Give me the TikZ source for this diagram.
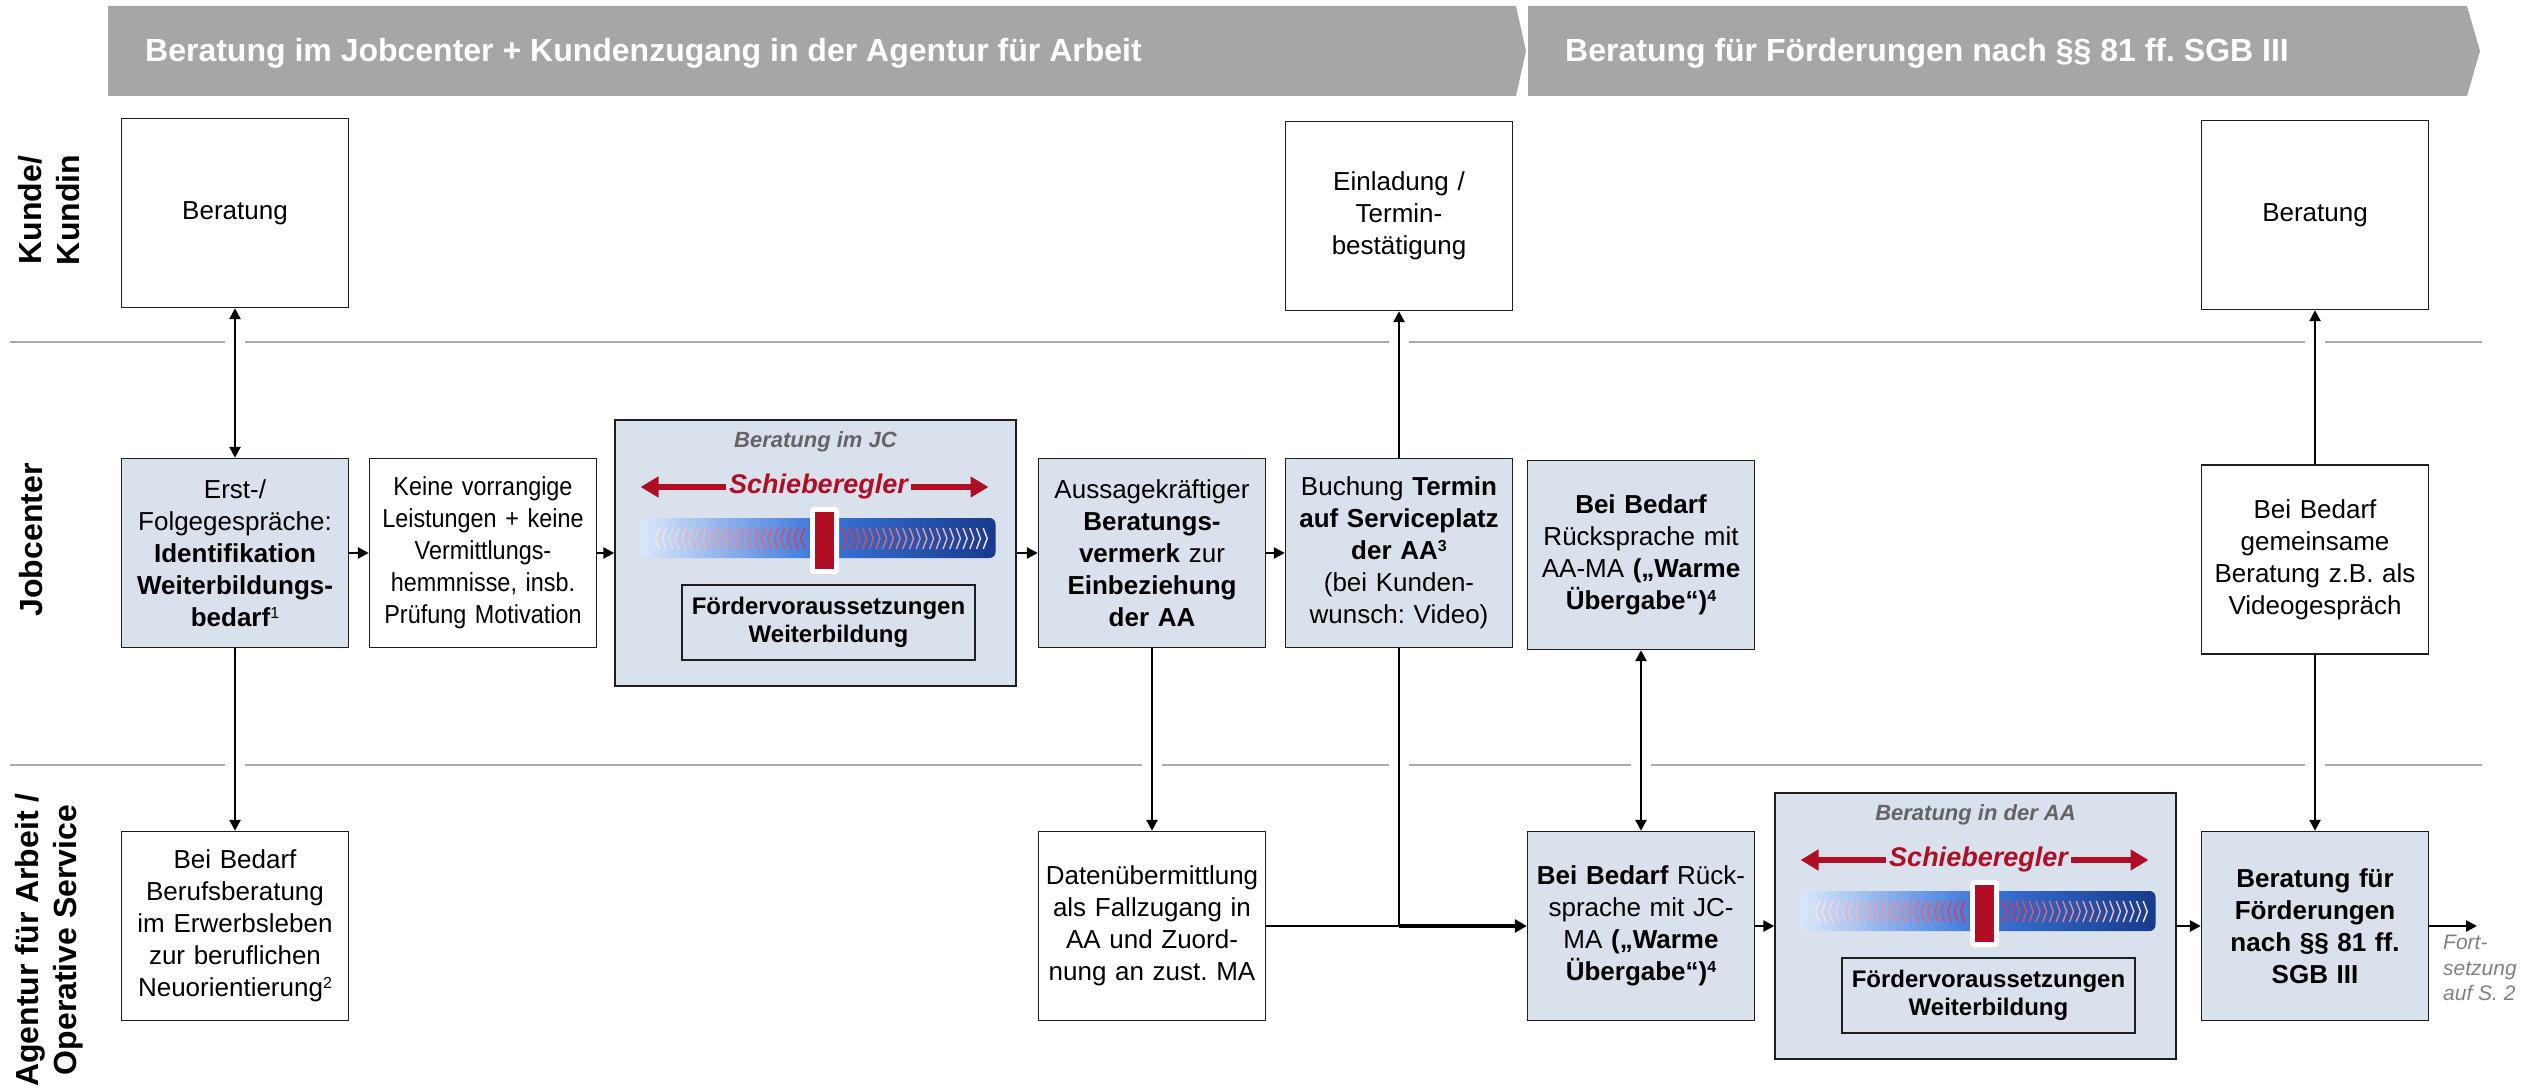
\documentclass[tikz,border=0pt]{standalone}
\usepackage{fontspec}
\setmainfont{Liberation Sans}
\newfontfamily\narrowfont[FakeStretch=0.9]{Liberation Sans}
\usetikzlibrary{arrows.meta}
\definecolor{boxfill}{RGB}{217,225,236}
\definecolor{hdr}{RGB}{166,166,166}
\definecolor{sepc}{RGB}{170,170,170}
\definecolor{dred}{RGB}{176,14,36}
\definecolor{chred}{RGB}{226,50,60}
\definecolor{ttlgray}{RGB}{100,100,100}
\definecolor{fgray}{RGB}{128,128,128}
\definecolor{barL}{RGB}{218,231,250}
\definecolor{barM}{RGB}{58,118,220}
\definecolor{barR}{RGB}{22,58,140}
\definecolor{bord}{RGB}{30,30,30}
\newcommand\sups[1]{\raisebox{0.3em}{\fontsize{16}{16}\selectfont #1}}
\tikzset{
  box/.style={draw=bord, line width=1.4pt, minimum width=227pt, minimum height=189pt,
    inner sep=0pt, align=center, text width=218pt, font=\fontsize{26}{32}\selectfont},
  bluebox/.style={box, fill=boxfill},
  container/.style={draw=bord, line width=1.4pt, fill=boxfill, minimum width=401pt,
    minimum height=266pt, inner sep=0pt},
  conn/.style={line width=2.5pt, black},
  lane/.style={rotate=90, font=\fontsize{32}{38}\selectfont\bfseries, align=center, inner sep=0pt},
  hdrtext/.style={anchor=base west, text=white, font=\fontsize{32}{38}\selectfont\bfseries, inner sep=0pt},
}
\newcommand\mkslider[3]{%
  \begin{scope}[shift={(#1.center)}]
    \node[font=\fontsize{22}{26}\selectfont\bfseries\itshape, text=ttlgray] (#3t) at (0,-111) {#2};
    \shade[rounded corners=6pt, left color=barL, right color=barR, middle color=barM] (-175,-35) rectangle (180,5);
    \foreach \i in {0,...,22}{
      \pgfmathsetmacro\xx{-160+\i*6.6}
      \pgfmathtruncatemacro\p{12+88*\i/22}
      \draw[chred!\p!white, line width=1.4pt] (\xx+4,-25) -- (\xx,-14.5) -- (\xx+4,-4);
    }
    \foreach \i in {0,...,21}{
      \pgfmathsetmacro\xx{27+\i*6.7}
      \pgfmathtruncatemacro\p{100-88*\i/21}
      \draw[chred!\p!white, line width=1.4pt] (\xx,-25) -- (\xx+4,-14.5) -- (\xx,-4);
    }
    \fill[white, rounded corners=4pt] (-5.5,-46) rectangle (23.5,21);
    \fill[dred] (-0.5,-41) rectangle (18.5,16);
    \draw[dred, line width=6pt, {Triangle[length=18pt,width=20pt]}-{Triangle[length=18pt,width=20pt]}] (-175,-66) -- (173,-66);
    \node[fill=boxfill, inner sep=3pt, text=dred, font=\fontsize{27}{30}\selectfont\bfseries\itshape] (#3s) at (3,-66) {Schieberegler};
    \node[draw=bord, line width=1.4pt, fill=boxfill, minimum width=293pt, minimum height=75pt,
      inner sep=0pt, align=center, font=\fontsize{24}{28}\selectfont\bfseries] (#3f) at (13,69.5)
      {Fördervoraussetzungen\\Weiterbildung};
  \end{scope}%
}
\begin{document}
\frenchspacing
\begin{tikzpicture}[x=1pt, y=-1pt, >={Triangle[length=11pt,width=11pt]}]
\useasboundingbox (0,0) rectangle (2525,1091);
% header chevrons
\fill[hdr] (108,6) -- (1516,6) -- (1526,51) -- (1516,96) -- (108,96) -- cycle;
\fill[hdr] (1528,6) -- (2467,6) -- (2480,51) -- (2467,96) -- (1528,96) -- cycle;
\node[hdrtext] (h1) at (145,62) {Beratung im Jobcenter + Kundenzugang in der Agentur für Arbeit};
\node[hdrtext] (h2) at (1565,62) {Beratung für Förderungen nach §§ 81 ff. SGB III};
% lane labels
\node[lane] (lK) at (49,210) {Kunde/\\Kundin};
\node[lane, anchor=base] (lJ) at (42,540) {Jobcenter};
\node[lane] (lA) at (49,940) {Agentur für Arbeit /\\Operative Service};
% separators
\draw[sepc, line width=2pt] (10,342) -- (2482,342);
\draw[sepc, line width=2pt] (10,765) -- (2482,765);
\foreach \x in {235,1399,2315} \fill[white] (\x-10,338) rectangle (\x+10,346);
\foreach \x in {235,1152,1399,1641,2315} \fill[white] (\x-10,761) rectangle (\x+10,769);
% Kunde row
\node[box] (K1) at (235,213) {Beratung};
\node[box] (K2) at (1399,216) {Einladung /\\Termin-\\bestätigung};
\node[box] (K3) at (2315,215) {Beratung};
% Jobcenter row
\node[bluebox] (JC1) at (235,553) {Erst-/\\Folgegespräche:\\\textbf{Identifikation}\\\textbf{Weiterbildungs-}\\\textbf{bedarf}\sups{1}};
\node[box, font=\fontsize{26}{32}\selectfont\narrowfont] (JC2) at (483,553) {Keine vorrangige\\Leistungen + keine\\Vermittlungs-\\hemmnisse, insb.\\Prüfung Motivation};
\node[container] (JC3) at (815.5,553) {};
\mkslider{JC3}{Beratung im JC}{jc}
\node[bluebox] (JC4) at (1152,553) {Aussagekräftiger\\\textbf{Beratungs-}\\\textbf{vermerk} zur\\\textbf{Einbeziehung}\\\textbf{der AA}};
\node[bluebox] (JC5) at (1399,553) {Buchung \textbf{Termin}\\\textbf{auf Serviceplatz}\\\textbf{der AA\sups{3}}\\(bei Kunden-\\wunsch: Video)};
\node[bluebox] (JC6) at (1641,555) {\textbf{Bei Bedarf}\\Rücksprache mit\\AA-MA \textbf{(„Warme}\\\textbf{Übergabe“)\sups{4}}};
\node[box] (JC7) at (2315,559.5) {Bei Bedarf\\gemeinsame\\Beratung z.B. als\\Videogespräch};
% Agentur row
\node[box] (AA1) at (235,926) {Bei Bedarf\\Berufsberatung\\im Erwerbsleben\\zur beruflichen\\Neuorientierung\sups{2}};
\node[box] (AA2) at (1152,926) {Datenübermittlung\\als Fallzugang in\\AA und Zuord-\\nung an zust. MA};
\node[bluebox] (AA3) at (1641,926) {\textbf{Bei Bedarf} Rück-\\sprache mit JC-\\MA \textbf{(„Warme}\\\textbf{Übergabe“)\sups{4}}};
\node[container] (AA4) at (1975.5,926) {};
\mkslider{AA4}{Beratung in der AA}{aa}
\node[bluebox] (AA5) at (2315,926) {\textbf{Beratung für}\\\textbf{Förderungen}\\\textbf{nach §§ 81 ff.}\\\textbf{SGB III}};
\node[anchor=north west, align=left, inner sep=0pt, text=fgray, font=\fontsize{21}{25.5}\selectfont\itshape] (fort) at (2443,935) {Fort-\\setzung\\auf S. 2};
% connectors
\draw[conn, <->] (K1.south) -- (JC1.north);
\draw[conn, ->] (JC1.south) -- (AA1.north);
\draw[conn, ->] (JC1.east) -- (JC2.west);
\draw[conn, ->] (JC2.east) -- (JC3.west |- JC2.east);
\draw[conn, ->] (JC3.east |- JC4.west) -- (JC4.west);
\draw[conn, ->] (JC4.east) -- (JC5.west);
\draw[conn, ->] (JC5.north) -- (K2.south);
\draw[conn, ->] (JC4.south) -- (AA2.north);
\coordinate (jn) at (JC5.south |- AA3.west);
\draw[conn] (JC5.south) -- (jn);
\draw[conn] (AA2.east) -- (jn);
\draw[line width=3.5pt, -{Triangle[length=12pt,width=13pt]}] (jn) -- (AA3.west);
\draw[conn, <->] (JC6.south) -- (AA3.north);
\draw[conn, ->] (AA3.east) -- (AA4.west);
\draw[conn, ->] (AA4.east) -- (AA5.west);
\draw[conn, ->] (JC7.north) -- (K3.south);
\draw[conn, ->] (JC7.south) -- (AA5.north);
\coordinate (fortend) at (2477,926);
\draw[conn, ->] (AA5.east) -- (fortend);
\end{tikzpicture}
\end{document}
